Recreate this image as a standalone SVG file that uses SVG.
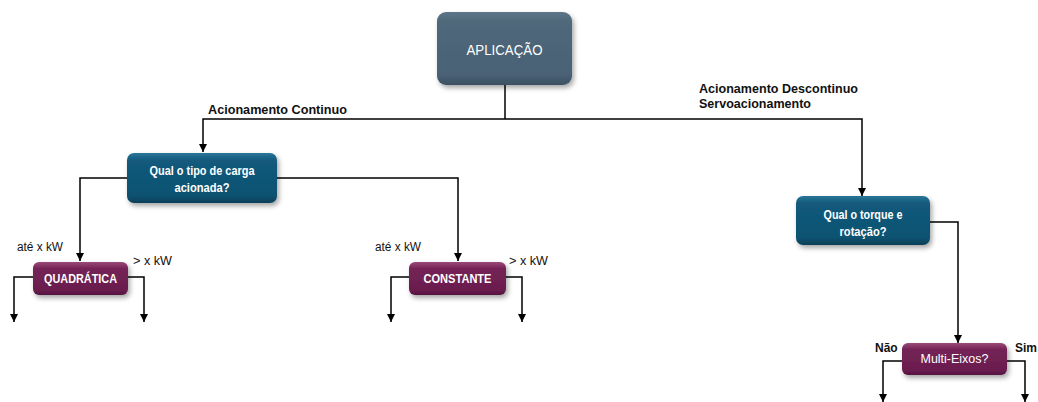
<svg xmlns="http://www.w3.org/2000/svg" width="1038" height="402" viewBox="0 0 1038 402">
  <defs>
    <style>
      .wire { fill: none; stroke: #000; stroke-width: 1.5; }
      .arrow { marker-end: url(#head); }
      .lbl { font-family: "Liberation Sans", Arial, sans-serif; font-size: 12px; fill: #111; }
      .lblb { font-family: "Liberation Sans", Arial, sans-serif; font-size: 12.5px; font-weight: bold; fill: #111; }
      .nt { font-family: "Liberation Sans", Arial, sans-serif; fill: #fff; text-anchor: middle; }
      .box { filter: url(#shadow); }
    </style>
    <marker id="head" viewBox="0 0 10 10" refX="10" refY="5" markerWidth="8" markerHeight="8" markerUnits="userSpaceOnUse" orient="auto">
      <path d="M0,0 L10,5 L0,10 Z" fill="#000"/>
    </marker>
    <filter id="shadow" x="-20%" y="-20%" width="150%" height="160%">
      <feDropShadow dx="2" dy="3" stdDeviation="2.5" flood-color="#000" flood-opacity="0.35"/>
    </filter>
    <linearGradient id="gSlate" x1="0" y1="0" x2="0" y2="1">
      <stop offset="0" stop-color="#5c7588"/>
      <stop offset="0.15" stop-color="#4f677a"/>
      <stop offset="0.85" stop-color="#4a6275"/>
      <stop offset="1" stop-color="#3b5062"/>
    </linearGradient>
    <linearGradient id="gTeal" x1="0" y1="0" x2="0" y2="1">
      <stop offset="0" stop-color="#2a7598"/>
      <stop offset="0.15" stop-color="#125a7c"/>
      <stop offset="0.85" stop-color="#0f5271"/>
      <stop offset="1" stop-color="#0a3f58"/>
    </linearGradient>
    <linearGradient id="gPlum" x1="0" y1="0" x2="0" y2="1">
      <stop offset="0" stop-color="#9a4a78"/>
      <stop offset="0.2" stop-color="#742356"/>
      <stop offset="0.85" stop-color="#6a1d4e"/>
      <stop offset="1" stop-color="#541540"/>
    </linearGradient>
  </defs>

  <!-- connectors -->
  <g id="connectors">
    <path class="wire" d="M505,85 V119"/>
    <path class="wire arrow" d="M505,119 H203 V152"/>
    <path class="wire arrow" d="M505,119 H862 V196"/>
    <path class="wire arrow" d="M128,178 H80 V261"/>
    <path class="wire arrow" d="M277,178 H458 V261"/>
    <path class="wire arrow" d="M33,277 H14 V322"/>
    <path class="wire arrow" d="M128,277 H144 V322"/>
    <path class="wire arrow" d="M409,277 H391 V322"/>
    <path class="wire arrow" d="M506,277 H522 V322"/>
    <path class="wire arrow" d="M930,222 H958 V343"/>
    <path class="wire arrow" d="M902,361 H883 V402"/>
    <path class="wire arrow" d="M1007,361 H1025 V402"/>
  </g>

  <!-- connector labels -->
  <g id="labels">
    <text class="lblb" x="208" y="114" textLength="139" lengthAdjust="spacingAndGlyphs">Acionamento Continuo</text>
    <text class="lblb" x="699" y="93" textLength="159" lengthAdjust="spacingAndGlyphs">Acionamento Descontinuo</text>
    <text class="lblb" x="699" y="108" textLength="112" lengthAdjust="spacingAndGlyphs">Servoacionamento</text>
    <text class="lbl" x="17" y="251" textLength="46" lengthAdjust="spacingAndGlyphs">até x kW</text>
    <text class="lbl" x="133" y="265" textLength="39" lengthAdjust="spacingAndGlyphs">&gt; x kW</text>
    <text class="lbl" x="375" y="251" textLength="46" lengthAdjust="spacingAndGlyphs">até x kW</text>
    <text class="lbl" x="509" y="265" textLength="39" lengthAdjust="spacingAndGlyphs">&gt; x kW</text>
    <text class="lblb" x="875" y="352" style="font-size:12px">Não</text>
    <text class="lblb" x="1015" y="352" style="font-size:12px">Sim</text>
  </g>

  <g id="aplicacao">
    <rect class="box" x="437" y="12" width="135" height="73" rx="9" fill="url(#gSlate)"/>
    <text class="nt" x="504.5" y="55" font-size="15" textLength="76" lengthAdjust="spacingAndGlyphs">APLICAÇÃO</text>
  </g>

  <g id="tipo-carga">
    <rect class="box" x="127" y="153" width="150" height="50" rx="7" fill="url(#gTeal)"/>
    <text class="nt" x="202" y="175" font-size="13" font-weight="bold" textLength="105" lengthAdjust="spacingAndGlyphs">Qual o tipo de carga</text>
    <text class="nt" x="202" y="192" font-size="13" font-weight="bold" textLength="55" lengthAdjust="spacingAndGlyphs">acionada?</text>
  </g>

  <g id="quadratica">
    <rect class="box" x="33" y="262" width="95" height="33" rx="6" fill="url(#gPlum)"/>
    <text class="nt" x="80.5" y="283" font-size="12" font-weight="bold" textLength="73" lengthAdjust="spacingAndGlyphs">QUADRÁTICA</text>
  </g>

  <g id="constante">
    <rect class="box" x="409" y="262" width="97" height="33" rx="6" fill="url(#gPlum)"/>
    <text class="nt" x="457.5" y="283" font-size="12" font-weight="bold" textLength="68" lengthAdjust="spacingAndGlyphs">CONSTANTE</text>
  </g>

  <g id="torque-rotacao">
    <rect class="box" x="796" y="196" width="134" height="49" rx="7" fill="url(#gTeal)"/>
    <text class="nt" x="863" y="219" font-size="13" font-weight="bold" textLength="79" lengthAdjust="spacingAndGlyphs">Qual o torque e</text>
    <text class="nt" x="863" y="236" font-size="13" font-weight="bold" textLength="47" lengthAdjust="spacingAndGlyphs">rotação?</text>
  </g>

  <g id="multi-eixos">
    <rect class="box" x="902" y="343" width="105" height="32" rx="6" fill="url(#gPlum)"/>
    <text class="nt" x="954.5" y="363" font-size="12.5" textLength="68" lengthAdjust="spacingAndGlyphs">Multi-Eixos?</text>
  </g>
</svg>
